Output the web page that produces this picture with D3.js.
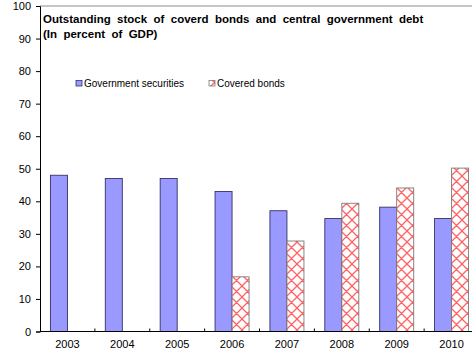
<!DOCTYPE html>
<html>
<head>
<meta charset="utf-8">
<script src="https://cdn.jsdelivr.net/npm/d3@7"></script>
<style>
  html, body { margin: 0; padding: 0; background: #fff; }
  svg { display: block; font-family: "Liberation Sans", Arial, sans-serif; }
</style>
</head>
<body>
<svg id="chart" width="472" height="353"></svg>
<script>
// Outstanding stock of covered bonds and central government debt, % of GDP
const years = ["2003", "2004", "2005", "2006", "2007", "2008", "2009", "2010"];
const governmentSecurities = [48, 47, 47, 43, 37.1, 34.7, 38.2, 34.7];
const coveredBonds = [null, null, null, 16.8, 27.8, 39.4, 44.1, 50.2];
const yTicks = [0, 10, 20, 30, 40, 50, 60, 70, 80, 90, 100];
const seriesNames = ["Government securities", "Covered bonds"];
const titleLines = ["Outstanding stock of coverd bonds and central government debt", "(In percent of GDP)"];

const svg = d3.select("#chart");
const plotLeft = 40, plotRight = 479, plotTop = 6, plotBottom = 331.5;

const x = d3.scaleBand().domain(years).range([plotLeft, plotRight]).paddingInner(0.38).paddingOuter(0.19);
const xSub = d3.scaleBand().domain(["gov", "cov"]).range([0, x.bandwidth()]);
const y = d3.scaleLinear().domain([0, 100]).range([plotBottom, plotTop]);

// cross-hatch fill for covered bonds
const defs = svg.append("defs");
const pat = defs.append("pattern")
  .attr("id", "hatch").attr("patternUnits", "userSpaceOnUse")
  .attr("width", 11).attr("height", 11);
pat.append("rect").attr("width", 11).attr("height", 11).attr("fill", "#fff");
pat.append("path").attr("d", "M0,0L11,11M11,0L0,11M-1,10L1,12M10,-1L12,1M-1,1L1,-1M10,12L12,10")
  .attr("stroke", "#ff6262").attr("stroke-width", 1.3).attr("fill", "none");

// top frame line
svg.append("line").attr("x1", plotLeft).attr("x2", 472).attr("y1", plotTop).attr("y2", plotTop)
  .attr("stroke", "#8c8c8c").attr("stroke-width", 1);

// bars
const g = svg.append("g");
g.selectAll("rect.gov").data(years).join("rect").attr("class", "gov")
  .attr("x", (d) => x(d) + xSub("gov"))
  .attr("y", (d, i) => y(governmentSecurities[i]))
  .attr("width", xSub.bandwidth())
  .attr("height", (d, i) => y(0) - y(governmentSecurities[i]))
  .attr("fill", "#9999ff").attr("stroke", "#333366").attr("stroke-width", 0.9);

const covIdx = years.map((d, i) => i).filter((i) => coveredBonds[i] != null);
g.selectAll("rect.cov").data(covIdx).join("rect").attr("class", "cov")
  .attr("x", (i) => x(years[i]) + xSub("cov"))
  .attr("y", (i) => y(coveredBonds[i]))
  .attr("width", xSub.bandwidth())
  .attr("height", (i) => y(0) - y(coveredBonds[i]))
  .attr("fill", "url(#hatch)").attr("stroke", "#7a7a7a").attr("stroke-width", 0.9);

// y axis
const yAxis = svg.append("g").attr("transform", `translate(${plotLeft},0)`)
  .call(d3.axisLeft(y).tickValues(yTicks).tickSize(4).tickPadding(5).tickFormat(d3.format("d")));
yAxis.select(".domain").attr("stroke", "#000");
yAxis.selectAll("text").attr("font-size", 11).attr("fill", "#000");

// x axis with inward ticks at category boundaries
const xAxisG = svg.append("g").attr("transform", `translate(0,${plotBottom})`);
xAxisG.append("line").attr("x1", plotLeft).attr("x2", 472).attr("stroke", "#000").attr("stroke-width", 1);
const step = x.step();
xAxisG.selectAll("line.tk").data(years.slice(1)).join("line").attr("class", "tk")
  .attr("x1", (d) => x(d) - x.paddingOuter() * step).attr("x2", (d) => x(d) - x.paddingOuter() * step)
  .attr("y1", 0).attr("y2", -3).attr("stroke", "#000");
xAxisG.selectAll("text").data(years).join("text")
  .attr("x", (d) => x(d) + x.bandwidth() / 2).attr("y", 16.5)
  .attr("text-anchor", "middle").attr("font-size", 11).text((d) => d);

// title
svg.selectAll("text.title").data(titleLines).join("text").attr("class", "title")
  .attr("x", 43).attr("y", (d, i) => 23 + i * 14.5)
  .attr("font-size", 11.5).attr("font-weight", "bold").attr("word-spacing", 3.2).text((d) => d);

// legend
const legend = svg.append("g");
const legendX = [76, 209];
legend.selectAll("rect").data(seriesNames).join("rect")
  .attr("x", (d, i) => legendX[i]).attr("y", 80.5).attr("width", 6).attr("height", 5.5)
  .attr("fill", (d, i) => i === 0 ? "#9999ff" : "url(#hatch)")
  .attr("stroke", (d, i) => i === 0 ? "#333366" : "#7a7a7a").attr("stroke-width", 0.8);
legend.selectAll("text").data(seriesNames).join("text")
  .attr("x", (d, i) => legendX[i] + 8).attr("y", 86.5)
  .attr("font-size", 10).text((d) => d);
</script>
</body>
</html>
